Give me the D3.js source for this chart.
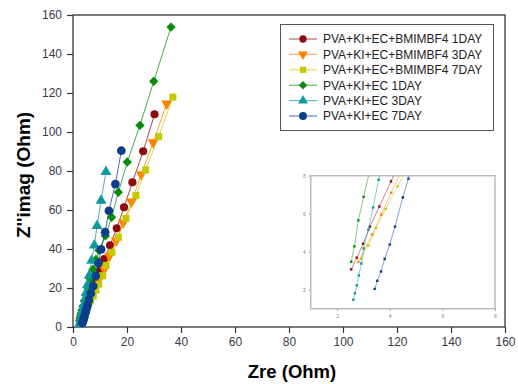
<!DOCTYPE html>
<html>
<head>
<meta charset="utf-8">
<script src="https://cdn.jsdelivr.net/npm/d3@7"></script>
<style>
  body { margin: 0; background: #fff; }
  svg { display: block; font-family: "Liberation Sans", Arial, sans-serif; }
</style>
</head>
<body>
<div id="chart"></div>
<script>
// EIS data, Zre vs Z''imag (Ohm)
const ecbm1Day = [[2.54, 3.07], [2.75, 3.68], [2.99, 4.42], [3.25, 5.32], [3.61, 6.38], [4.05, 7.7],
  [4.6, 9.4], [5.3, 11.6], [6.1, 14.3], [7.1, 17.8], [8.4, 22.8], [10.0, 29.2], [11.6, 34.9],
  [13.7, 41.9], [16.2, 50.6], [18.9, 61.4], [22.0, 74.2], [26.0, 90.1], [30.2, 109.1]];
const ecbm3Day = [[2.81, 3.46], [3.34, 4.91], [3.68, 5.95], [4.06, 7.1], [4.6, 8.7], [5.3, 10.9],
  [6.2, 13.5], [7.3, 16.9], [8.6, 21.0], [10.0, 25.3], [11.6, 29.6], [13.5, 36.4], [16.0, 44.3],
  [18.6, 53.5], [21.7, 64.3], [25.3, 78.3], [29.7, 94.7], [34.7, 114.5]];
const ecbm7Day = [[2.91, 3.62], [3.19, 4.33], [3.48, 5.25], [3.85, 6.25], [4.3, 7.44], [4.9, 9.0],
  [5.6, 10.9], [6.5, 13.3], [7.5, 16.0], [8.5, 18.9], [9.5, 22.0], [11.0, 26.3], [12.2, 31.6],
  [14.4, 38.3], [16.8, 46.0], [19.6, 55.7], [23.3, 67.5], [26.9, 80.5], [31.7, 97.6], [37.0, 117.9]];
const ec1Day = [[2.54, 3.47], [2.66, 4.28], [2.81, 5.65], [3.01, 6.89], [3.3, 8.6], [3.7, 10.7],
  [4.2, 13.3], [4.8, 16.4], [5.5, 20.0], [6.4, 24.6], [7.4, 29.6], [8.5, 34.6], [9.6, 39.3],
  [12.0, 46.7], [14.3, 56.3], [16.8, 69.1], [20.1, 84.6], [24.8, 103.4], [29.9, 126.0], [36.3, 153.8]];
const ec3Day = [[2.62, 1.47], [2.68, 1.81], [2.75, 2.23], [2.83, 2.75], [2.92, 3.38], [3.01, 4.17],
  [3.19, 5.16], [3.37, 6.33], [3.58, 7.79], [3.85, 9.6], [4.15, 11.8], [4.5, 14.5], [4.9, 17.7],
  [5.4, 21.6], [6.0, 26.4], [6.9, 34.0], [7.9, 41.9], [8.9, 51.9], [10.4, 64.8], [12.2, 79.6]];
const ec7Day = [[3.43, 2.04], [3.53, 2.47], [3.67, 2.96], [3.81, 3.62], [4.0, 4.38], [4.2, 5.32],
  [4.5, 6.86], [4.71, 7.84], [5.0, 9.3], [5.4, 11.3], [5.9, 13.8], [6.6, 17.2], [7.5, 21.0],
  [8.4, 26.2], [9.4, 32.7], [10.4, 39.8], [11.9, 48.6], [13.3, 59.6], [15.7, 73.3], [17.9, 90.4]];

const seriesNames = ['PVA+KI+EC+BMIMBF4 1DAY', 'PVA+KI+EC+BMIMBF4 3DAY', 'PVA+KI+EC+BMIMBF4 7DAY',
  'PVA+KI+EC 1DAY', 'PVA+KI+EC 3DAY', 'PVA+KI+EC 7DAY'];
const seriesData = [ecbm1Day, ecbm3Day, ecbm7Day, ec1Day, ec3Day, ec7Day];
const mainTicks = [0, 20, 40, 60, 80, 100, 120, 140, 160];
const insetTicks = [2, 4, 6, 8];

const colors = ['#8c0a0a', '#ff8000', '#c8c800', '#0a8c0a', '#10999a', '#0a3f8c'];
// diamond = square turned 45 degrees, down triangle = triangle turned 180
const symbols = [d3.symbolCircle, d3.symbolTriangle, d3.symbolSquare, d3.symbolSquare,
  d3.symbolTriangle, d3.symbolCircle];
const sizes = [52, 52, 50, 44, 52, 60];
const rot = [0, 180, 0, 45, 0, 0];

const W = 518, H = 384;
const margin = { top: 15, right: 13, bottom: 57, left: 73 };
const width = W - margin.left - margin.right;
const height = H - margin.top - margin.bottom;

const svg = d3.select('#chart').append('svg')
  .attr('width', W)
  .attr('height', H);

const x = d3.scaleLinear().domain([0, 160]).range([margin.left, margin.left + width]);
const y = d3.scaleLinear().domain([0, 160]).range([margin.top + height, margin.top]);

// axes
const xAxis = svg.append('g')
  .attr('transform', `translate(0,${margin.top + height})`)
  .call(d3.axisBottom(x).tickValues(mainTicks).tickSize(6).tickPadding(4));
const yAxis = svg.append('g')
  .attr('transform', `translate(${margin.left},0)`)
  .call(d3.axisLeft(y).tickValues(mainTicks).tickSize(6).tickPadding(5));
[xAxis, yAxis].forEach((a) => {
  a.select('.domain').remove();
  a.selectAll('line').attr('stroke', '#333').attr('stroke-width', 1.2);
  a.selectAll('text').attr('fill', '#3a3a48').style('font-size', '12px');
});

svg.append('rect')
  .attr('x', margin.left).attr('y', margin.top)
  .attr('width', width).attr('height', height)
  .attr('fill', 'none').attr('stroke', '#333').attr('stroke-width', 1.3);

// axis titles
svg.append('text')
  .attr('x', x(80) + 3).attr('y', 378)
  .attr('text-anchor', 'middle')
  .style('font-size', '18.5px').style('font-weight', 'bold')
  .text('Zre (Ohm)');
svg.append('text')
  .attr('transform', 'translate(30,175) rotate(-90)')
  .attr('text-anchor', 'middle')
  .style('font-size', '19px').style('font-weight', 'bold')
  .text('Z\'\'imag (Ohm)');

const line = d3.line().x((d) => x(d[0])).y((d) => y(d[1]));

seriesData.forEach((data, i) => {
  const g = svg.append('g');
  g.append('path')
    .datum(data)
    .attr('d', line)
    .attr('fill', 'none')
    .attr('stroke', colors[i])
    .attr('stroke-opacity', 0.75)
    .attr('stroke-width', 1);
  g.selectAll('path.pt')
    .data(data)
    .enter()
    .append('path')
    .attr('class', 'pt')
    .attr('d', d3.symbol().type(symbols[i]).size(sizes[i]))
    .attr('transform', (d) => `translate(${x(d[0])},${y(d[1])}) rotate(${rot[i]})`)
    .attr('fill', colors[i]);
});

// legend
const legend = svg.append('g');
legend.append('rect')
  .attr('x', 280.5).attr('y', 24.5)
  .attr('width', 213).attr('height', 106)
  .attr('fill', '#fff').attr('stroke', '#555').attr('stroke-width', 1);
seriesNames.forEach((name, i) => {
  const cy = 39 + i * 15.4;
  legend.append('line')
    .attr('x1', 289).attr('x2', 317).attr('y1', cy).attr('y2', cy)
    .attr('stroke', colors[i]).attr('stroke-opacity', 0.75).attr('stroke-width', 1);
  legend.append('path')
    .attr('d', d3.symbol().type(symbols[i]).size(sizes[i] * 0.8))
    .attr('transform', `translate(303,${cy}) rotate(${rot[i]})`)
    .attr('fill', colors[i]);
  legend.append('text')
    .attr('x', 323).attr('y', cy + 4.3)
    .attr('fill', '#222')
    .style('font-size', '12px')
    .text(name);
});

// inset zoom of the low range
const ix = d3.scaleLinear().domain([1, 8]).range([310.7, 495]);
const iy = d3.scaleLinear().domain([1, 8]).range([308.7, 175.7]);
const inset = svg.append('g');
inset.append('rect')
  .attr('x', ix(1)).attr('y', iy(8))
  .attr('width', ix(8) - ix(1)).attr('height', iy(1) - iy(8))
  .attr('fill', '#fff');
inset.append('clipPath').attr('id', 'insetClip')
  .append('rect')
  .attr('x', ix(1)).attr('y', iy(8))
  .attr('width', ix(8) - ix(1)).attr('height', iy(1) - iy(8));

const iAxisX = inset.append('g')
  .attr('transform', `translate(0,${iy(1)})`)
  .call(d3.axisBottom(ix).tickValues(insetTicks).tickFormat(d3.format('d')).tickSize(2).tickPadding(4));
const iAxisY = inset.append('g')
  .attr('transform', `translate(${ix(1)},0)`)
  .call(d3.axisLeft(iy).tickValues(insetTicks).tickFormat(d3.format('d')).tickSize(2).tickPadding(3));
[iAxisX, iAxisY].forEach((a) => {
  a.select('.domain').remove();
  a.selectAll('line').attr('stroke', '#999');
  a.selectAll('text').attr('fill', '#888').style('font-size', '5px');
});
inset.append('rect')
  .attr('x', ix(1)).attr('y', iy(8))
  .attr('width', ix(8) - ix(1)).attr('height', iy(1) - iy(8))
  .attr('fill', 'none').attr('stroke', '#bbb').attr('stroke-width', 1.5);

const iline = d3.line().x((d) => ix(d[0])).y((d) => iy(d[1]));
const iplot = inset.append('g').attr('clip-path', 'url(#insetClip)');
seriesData.forEach((data, i) => {
  iplot.append('path')
    .datum(data)
    .attr('d', iline)
    .attr('fill', 'none')
    .attr('stroke', colors[i])
    .attr('stroke-opacity', 0.55)
    .attr('stroke-width', 0.9);
  iplot.selectAll(null)
    .data(data.filter((d) => d[1] <= 8))
    .enter()
    .append('rect')
    .attr('x', (d) => ix(d[0]) - 1.2)
    .attr('y', (d) => iy(d[1]) - 1.2)
    .attr('width', 2.4).attr('height', 2.4)
    .attr('fill', colors[i]);
});
</script>
</body>
</html>
